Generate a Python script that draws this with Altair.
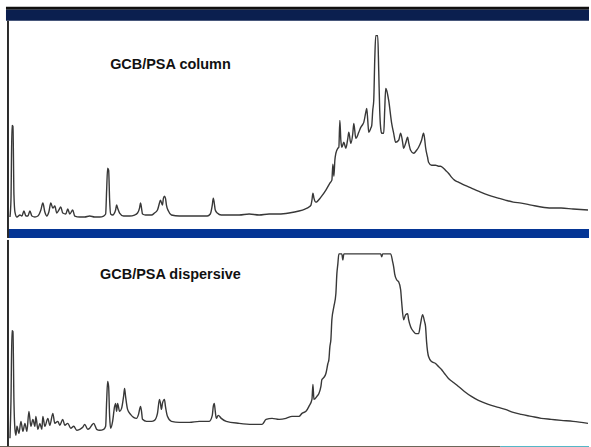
import altair as alt
import pandas as pd

# --- GCB/PSA column cleanup: retention time (min) and detector response ---
col_time = [1.0, 1.1, 1.2, 1.3, 1.4, 1.5, 1.7, 2.0, 2.2, 2.4, 2.6, 2.8, 3.0, 3.2, 3.5, 3.8,
            4.1, 4.3, 4.5, 4.7, 4.9, 5.1, 5.3, 5.5, 5.7, 5.9, 6.1, 6.3, 6.6, 6.8, 7.0, 7.3,
            7.5, 8.0, 8.5, 9.0, 9.5, 10.0, 10.4, 10.6, 10.7, 10.8, 10.9, 11.0, 11.1, 11.3,
            11.6, 11.7, 11.8, 12.0, 12.4, 13.0, 13.5, 13.8, 14.0, 14.1, 14.2, 14.3, 14.6,
            15.2, 15.5, 15.8, 16.0, 16.1, 16.3, 16.4, 16.5, 16.6, 16.7, 16.9, 17.2, 18.0,
            19.0, 20.0, 20.8, 21.1, 21.3, 21.4, 21.5, 21.6, 21.8, 22.2, 23.0, 24.0, 25.0,
            26.0, 27.0, 28.0, 29.0, 30.0, 30.6, 31.0, 31.2, 31.3, 31.4, 31.5, 31.7, 32.2,
            32.7, 33.1, 33.3, 33.4, 33.5, 33.6, 33.7, 33.9, 34.0, 34.1, 34.2, 34.3, 34.5,
            34.7, 34.9, 35.0, 35.2, 35.4, 35.5, 35.7, 36.0, 36.2, 36.4, 36.5, 36.7, 36.8,
            36.9, 37.0, 37.2, 37.3, 37.4, 37.5, 37.6, 37.7, 37.9, 38.0, 38.1, 38.2, 38.3,
            38.5, 38.6, 38.7, 38.8, 39.0, 39.3, 39.5, 39.7, 40.0, 40.2, 40.4, 40.5, 40.7,
            40.9, 41.0, 41.2, 41.5, 41.8, 42.0, 42.3, 42.5, 42.6, 42.7, 42.9, 43.0, 43.3,
            43.7, 44.0, 44.2, 44.5, 44.7, 45.0, 45.3, 45.6, 46.0, 46.6, 47.3, 48.0, 49.0,
            50.0, 50.7, 51.5, 52.3, 53.3, 54.3, 55.3, 56.3, 57.5, 59.0]
col_resp = [12, 29, 104, 103, 34, 17, 12, 14, 13, 18, 13, 13, 18, 13, 12, 13,
            19, 26, 17, 13, 17, 26, 21, 23, 16, 19, 22, 16, 15, 20, 15, 19,
            13, 12, 12, 13, 12, 12, 13, 15, 39, 61, 59, 29, 15, 14,
            19, 24, 21, 16, 13, 13, 14, 16, 21, 26, 21, 15, 14,
            14, 16, 19, 26, 29, 24, 31, 33, 31, 24, 18, 14, 13,
            13, 13, 13, 15, 24, 31, 26, 19, 16, 14, 14, 14, 15,
            14, 15, 15, 16, 18, 20, 22, 24, 29, 36, 31, 27, 32,
            39, 46, 49, 65, 53, 69, 76, 81, 82, 109, 89, 82, 87,
            81, 91, 97, 86, 96, 106, 91, 97, 102, 105, 107, 117, 121,
            109, 97, 101, 104, 119, 129, 169, 194, 194, 159, 119, 101, 96,
            96, 119, 141, 139, 129, 106, 96, 87, 89, 96, 87, 81, 86,
            92, 87, 79, 76, 79, 82, 89, 96, 91, 82, 72, 67, 64,
            64, 63, 63, 61, 59, 56, 52, 49, 47, 44, 41, 38, 34,
            31, 29, 27, 26, 24, 22, 21, 21, 20, 19]

# --- GCB/PSA dispersive cleanup ---
disp_time = [1.0, 1.1, 1.2, 1.3, 1.4, 1.5, 1.6, 1.7, 1.9, 2.1, 2.3, 2.5, 2.7, 2.9, 3.1, 3.3,
             3.5, 3.6, 3.8, 4.0, 4.2, 4.3, 4.5, 4.8, 5.0, 5.3, 5.5, 5.8, 6.0, 6.3, 6.5, 6.8,
             7.1, 7.4, 7.7, 8.0, 8.3, 8.5, 8.8, 9.0, 9.2, 9.4, 9.7, 10.0, 10.4, 10.6, 10.7,
             10.8, 10.9, 11.0, 11.1, 11.3, 11.5, 11.6, 11.7, 11.8, 12.0, 12.2, 12.4, 12.5,
             12.6, 12.8, 13.1, 13.4, 13.7, 13.9, 14.1, 14.2, 14.3, 14.7, 15.2, 15.5, 15.8,
             16.0, 16.1, 16.2, 16.3, 16.5, 16.6, 16.8, 17.2, 18.0, 19.0, 20.0, 21.0, 21.3,
             21.4, 21.5, 21.6, 21.7, 21.9, 22.2, 22.7, 24.0, 25.3, 26.3, 26.7, 27.3, 28.0,
             28.7, 29.3, 30.0, 30.3, 30.7, 31.0, 31.3, 31.4, 31.5, 31.8, 32.0, 32.2, 32.3,
             32.5, 32.7, 32.9, 33.0, 33.1, 33.2, 33.3, 33.5, 33.7, 33.8, 33.9, 34.0, 34.3,
             34.4, 34.5, 36.0, 38.2, 38.3, 38.4, 39.2, 39.4, 39.5, 39.6, 39.8, 40.0, 40.2,
             40.3, 40.5, 40.7, 40.9, 41.0, 41.2, 41.5, 41.7, 42.0, 42.2, 42.4, 42.6, 42.7,
             42.8, 43.0, 43.3, 43.7, 44.0, 44.3, 44.6, 45.0, 45.5, 46.0, 46.6, 47.3, 48.0,
             49.0, 50.0, 50.7, 51.5, 52.3, 53.3, 54.3, 55.3, 56.3, 57.5, 59.0]
disp_resp = [8, 45, 116, 115, 45, 17, 11, 20, 13, 25, 15, 23, 15, 35, 20, 27,
             20, 30, 17, 23, 17, 30, 20, 28, 21, 33, 23, 25, 21, 27, 21, 23,
             18, 20, 16, 17, 19, 22, 17, 18, 21, 23, 17, 16, 17, 20, 45,
             65, 60, 30, 18, 25, 40, 43, 35, 43, 35, 38, 50, 58,
             50, 37, 32, 29, 28, 32, 40, 35, 27, 25, 25, 26, 33,
             47, 43, 37, 43, 47, 40, 30, 25, 24, 24, 25, 25, 31,
             40, 43, 35, 28, 31, 28, 25, 23, 22, 22, 27, 28, 27,
             28, 30, 30, 33, 35, 40, 47, 62, 47, 50, 53, 60, 67,
             69, 73, 83, 87, 100, 107, 127, 140, 153, 173, 183, 193, 193,
             187, 193, 193, 193, 190, 193, 193, 185, 180, 173, 167, 165, 157,
             145, 127, 132, 133, 127, 120, 115, 113, 113, 123, 132, 125, 120,
             105, 90, 85, 83, 80, 77, 73, 68, 64, 60, 55, 50, 46,
             42, 39, 37, 34, 32, 30, 28, 27, 26, 25, 23]

panel_labels = ["GCB/PSA column", "GCB/PSA dispersive"]

W = 591
H1 = 238
H2 = 209
NAVY = "#0b1f4f"
BLUE = "#043595"
TRACE = "#383838"
EDGE = "#2a2a2a"

x_scale = alt.Scale(domain=[0, 59.1], nice=False, zero=False)
one_row = pd.DataFrame({"k": [0]})


def trace(times, resp, domain, rng):
    df = pd.DataFrame({"time": times, "response": resp})
    return alt.Chart(df).mark_line(
        color=TRACE, strokeWidth=1.4, interpolate="monotone"
    ).encode(
        x=alt.X("time:Q", scale=x_scale, axis=None),
        y=alt.Y("response:Q",
                scale=alt.Scale(domain=domain, range=rng, nice=False, zero=False),
                axis=None),
    )


def band(x1, x2, y1, y2, color):
    return alt.Chart(one_row).mark_rect(color=color).encode(
        x=alt.value(x1), x2=alt.value(x2), y=alt.value(y1), y2=alt.value(y2)
    )


def edge(y1, y2):
    return alt.Chart(one_row).mark_rule(color=EDGE, strokeWidth=2).encode(
        x=alt.value(8), y=alt.value(y1), y2=alt.value(y2)
    )


def label(text, x, y):
    return alt.Chart(pd.DataFrame({"label": [text]})).mark_text(
        font="Liberation Sans", fontWeight="bold", fontSize=14.5,
        align="center", baseline="alphabetic", color="#111111"
    ).encode(x=alt.value(x), y=alt.value(y), text="label:N")


top = alt.layer(
    band(6, W, 6, 9, "#101010"),
    band(6, W, 9, 20, NAVY),
    band(8, W, 229, 238, BLUE),
    edge(20, H1),
    trace(col_time, col_resp, [0, 229], [229, 0]),
    label(panel_labels[0], 171, 68),
).properties(width=W, height=H1)

bottom = alt.layer(
    edge(0, 207),
    band(0, 502, 207, 209, "#3a3322"),
    band(502, W, 207, 209, "#1c9fb5"),
    trace(disp_time, disp_resp, [0, 207], [207, 0]),
    label(panel_labels[1], 171, 39),
).properties(width=W, height=H2)

chart = alt.vconcat(top, bottom, spacing=0).properties(
    padding=0, background="white"
).configure_view(stroke=None)

chart.save("out.html", embed_options={"renderer": "svg", "actions": False})
